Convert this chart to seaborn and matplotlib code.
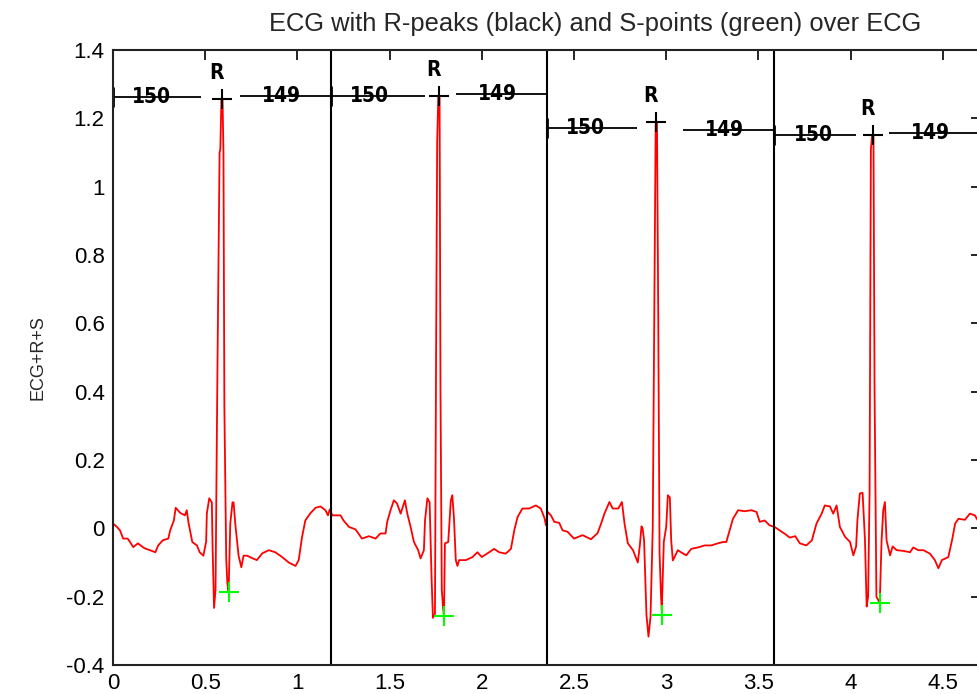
import numpy as np
import pandas as pd
import matplotlib
matplotlib.use('Agg')
import matplotlib.pyplot as plt
from matplotlib.ticker import FuncFormatter
import seaborn as sns

# ---- dados ----
# traçado do ECG (tempo em s, amplitude)
ecg_t = [0.0, 0.02, 0.038, 0.055, 0.08, 0.11, 0.135, 0.17, 0.2, 0.23, 0.245, 0.27, 0.3, 0.31, 0.33, 0.34,
         0.365, 0.39, 0.40, 0.41, 0.43, 0.455, 0.47, 0.49, 0.505, 0.509, 0.522, 0.536, 0.54, 0.548, 0.556,
         0.566, 0.578, 0.582, 0.588, 0.594, 0.599, 0.604, 0.614, 0.62, 0.627, 0.636, 0.648, 0.654,
         0.663, 0.681, 0.696, 0.708,
         0.727, 0.754, 0.78, 0.81, 0.845, 0.88, 0.917, 0.953, 0.99, 1.007, 1.025, 1.043, 1.07, 1.098, 1.125,
         1.152, 1.166, 1.175,
         1.18, 1.188, 1.234, 1.25, 1.28, 1.315, 1.35, 1.388, 1.424, 1.45, 1.478, 1.487, 1.505, 1.523, 1.54,
         1.56, 1.583, 1.596, 1.614, 1.632, 1.655, 1.668, 1.686, 1.692, 1.705, 1.717, 1.728, 1.735, 1.746,
         1.752, 1.758, 1.764, 1.771, 1.776, 1.783, 1.79, 1.795, 1.80, 1.818, 1.832, 1.84, 1.849, 1.859,
         1.868, 1.877,
         1.913, 1.95, 1.976, 2.0, 2.04, 2.067, 2.094, 2.13, 2.158, 2.176, 2.194, 2.22, 2.257, 2.293, 2.32,
         2.34, 2.348,
         2.357, 2.375, 2.393, 2.42, 2.438, 2.465, 2.5, 2.547, 2.592, 2.628, 2.647, 2.665, 2.692, 2.71, 2.74,
         2.76, 2.774, 2.792, 2.82, 2.846, 2.857, 2.866, 2.872, 2.88, 2.893, 2.904, 2.915, 2.927, 2.935,
         2.943, 2.95, 2.957, 2.964, 2.972, 2.976, 2.987, 3.0, 3.009, 3.02, 3.027, 3.036, 3.049, 3.063, 3.08,
         3.109, 3.136, 3.172, 3.208, 3.245, 3.28, 3.308, 3.326, 3.344, 3.362, 3.39, 3.425, 3.462, 3.49, 3.507,
         3.534, 3.56,
         3.588, 3.616, 3.643, 3.67, 3.7, 3.725, 3.76, 3.79, 3.815, 3.843, 3.86, 3.888, 3.906, 3.924, 3.942,
         3.97, 3.997, 4.015, 4.03, 4.037, 4.05, 4.065, 4.078, 4.087, 4.095, 4.103, 4.11, 4.117, 4.124, 4.13,
         4.14, 4.15, 4.158, 4.168, 4.177, 4.186, 4.195, 4.214, 4.228, 4.25, 4.286, 4.322, 4.34, 4.367, 4.395,
         4.43, 4.457, 4.476, 4.495, 4.53, 4.55, 4.567, 4.585, 4.62, 4.647, 4.674, 4.7]
ecg_v = [0.014, 0.005, -0.006, -0.03, -0.03, -0.055, -0.044, -0.058, -0.064, -0.07, -0.05, -0.035, -0.03, -0.006, 0.023, 0.06,
         0.045, 0.038, 0.053, 0.015, -0.04, -0.05, -0.07, -0.08, -0.04, 0.044, 0.088, 0.076, -0.055, -0.233, -0.18,
         0.443, 1.10, 1.11, 1.257, 1.257, 1.10, 0.355, -0.09, -0.16, -0.185, 0.014, 0.076, 0.076,
         0.014, -0.08, -0.114, -0.08,
         -0.08, -0.087, -0.093, -0.073, -0.064, -0.07, -0.084, -0.1, -0.11, -0.093, -0.026, 0.023, 0.044, 0.06, 0.064,
         0.053, 0.038, 0.055,
         0.053, 0.038, 0.038, 0.023, 0.004, -0.003, -0.03, -0.023, -0.03, -0.015, -0.015, 0.019, 0.053, 0.082, 0.073,
         0.043, 0.082, 0.043, 0.004, -0.04, -0.064, -0.088, -0.064, 0.023, 0.088, 0.076, -0.152, -0.262, -0.25,
         0.5, 1.13, 1.265, 1.265, 0.4, -0.18, -0.233, -0.258, -0.044, -0.04, 0.082, 0.097, 0.03, -0.093,
         -0.11, -0.093,
         -0.093, -0.084, -0.07, -0.084, -0.07, -0.06, -0.07, -0.074, -0.06, -0.006, 0.033, 0.058, 0.058, 0.067, 0.058,
         0.03, 0.009,
         0.048, 0.038, 0.019, 0.016, -0.006, -0.01, -0.03, -0.02, -0.032, -0.014, 0.014, 0.043, 0.077, 0.058, 0.058,
         0.077, 0.014, -0.044, -0.064, -0.1, -0.05, 0.006, 0.0, -0.035, -0.254, -0.317, -0.258, 0.0, 0.61,
         1.19, 1.19, 0.61, -0.073, -0.2, -0.24, -0.04, 0.004, 0.097, 0.09, -0.035, -0.094, -0.08, -0.064, -0.07,
         -0.079, -0.06, -0.056, -0.05, -0.05, -0.044, -0.04, -0.04, -0.006, 0.028, 0.053, 0.05, 0.053, 0.048, 0.019,
         0.023, 0.009,
         0.004, -0.006, -0.016, -0.027, -0.023, -0.044, -0.05, -0.035, 0.014, 0.043, 0.067, 0.064, 0.043, 0.067, 0.004,
         -0.025, -0.04, -0.079, -0.053, 0.024, 0.102, 0.104, -0.035, -0.229, -0.2, 0.11, 1.11, 1.152, 1.152, 0.4,
         -0.2, -0.21, -0.22, -0.035, 0.053, 0.077, -0.035, -0.079, -0.053, -0.064, -0.066, -0.07, -0.056, -0.064,
         -0.064, -0.074, -0.093, -0.117, -0.093, -0.084, -0.035, 0.014, 0.028, 0.025, 0.043, 0.038, 0.014]

# limites dos batimentos (linhas verticais)
limites = [1.18, 2.353, 3.587]
seg_ini = [0.0, 1.18, 2.353, 3.587]
seg_fim = [1.18, 2.353, 3.587, 4.9]

# picos R e pontos S
r_t = [0.592, 1.768, 2.946, 4.12]
r_v = [1.257, 1.265, 1.19, 1.152]
s_t = [0.627, 1.795, 2.976, 4.158]
s_v = [-0.185, -0.258, -0.254, -0.22]

# linhas de anotação antes / depois do R
esq_fim = [0.478, 1.69, 2.84, 4.03]
esq_v = [1.262, 1.265, 1.171, 1.152]
dir_ini = [0.69, 1.86, 3.092, 4.207]
dir_v = [1.265, 1.271, 1.166, 1.157]
rotulo_esq = ['150', '150', '150', '150']
rotulo_dir = ['149', '149', '149', '149']

# ---- figura ----
sns.set_theme(style='white')
plt.rcParams['font.family'] = ['Liberation Sans', 'DejaVu Sans']

fig = plt.figure(figsize=(9.78, 6.94), dpi=100)
ax = fig.add_axes([113/978, 29/694, (981-113)/978, (665-50)/694])

df_ecg = pd.DataFrame({'t': ecg_t, 'v': ecg_v})
sns.lineplot(data=df_ecg, x='t', y='v', sort=False, estimator=None, color='red', lw=1.3, ax=ax)

for b in limites:
    ax.axvline(b, color='black', lw=1.5)

fonte_neg = dict(family='DejaVu Sans', fontweight='bold', fontstretch='condensed', fontsize=15)
for i in range(len(seg_ini)):
    ax.hlines(esq_v[i], seg_ini[i], esq_fim[i], color='black', lw=1.3)
    ax.hlines(dir_v[i], dir_ini[i], seg_fim[i], color='black', lw=1.3)
    ax.plot(seg_ini[i], esq_v[i], marker='|', ms=14, mew=2, color='black')
    ax.text(seg_ini[i] + 0.105, esq_v[i], rotulo_esq[i], ha='left', va='center', color='black', **fonte_neg)
    ax.text(dir_ini[i] + 0.12, dir_v[i], rotulo_dir[i], ha='left', va='center', color='black', **fonte_neg)
    ax.text(r_t[i] - 0.03, r_v[i] + 0.075, 'R', ha='center', va='center', color='black', **fonte_neg)

sns.scatterplot(x=r_t, y=r_v, marker='+', s=200, color='black', linewidth=1.5, ax=ax, zorder=5)
sns.scatterplot(x=s_t, y=s_v, marker='+', s=200, color='#00ff00', linewidth=1.5, ax=ax, zorder=5)

ax.set_xlim(0, (981-113)/184.4)
ax.set_ylim(-0.4, 1.4)
ax.set_xticks(np.arange(0, 5, 0.5))
ax.set_yticks(np.arange(-0.4, 1.41, 0.2))
fmt = FuncFormatter(lambda v, p: f'{round(v, 2):g}')
ax.xaxis.set_major_formatter(fmt)
ax.yaxis.set_major_formatter(fmt)
ax.tick_params(direction='in', length=7, width=1.2, top=True, right=True, labelsize=16, colors='black', pad=6)
for sp in ax.spines.values():
    sp.set_color('#222222')
    sp.set_linewidth(1.5)

ax.set_xlabel('')
ax.set_ylabel('ECG+R+S', fontsize=13, labelpad=14)
ax.set_title('ECG with R-peaks (black) and S-points (green) over ECG', fontsize=18.4, x=0.556, pad=14)

fig.savefig('out.png', dpi=100)
